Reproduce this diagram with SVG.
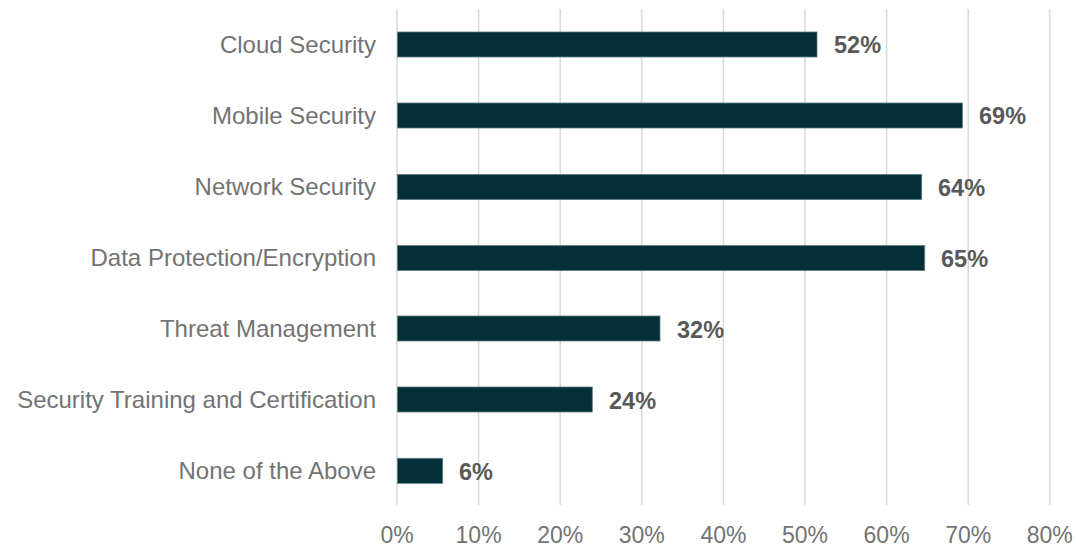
<svg xmlns="http://www.w3.org/2000/svg" width="1076" height="548" viewBox="0 0 1076 548">
<style>
.grid{stroke:#d9d9d9;stroke-width:1.5}
.bar{fill:#022f38;stroke:#5b7d83;stroke-width:0.8}
.cat{font-family:"Liberation Sans",Arial,sans-serif;font-size:24px;fill:#737373;text-anchor:end}
.val{font-family:"Liberation Sans",Arial,sans-serif;font-size:23.5px;font-weight:bold;fill:#595959}
.ax{font-family:"Liberation Sans",Arial,sans-serif;font-size:23px;fill:#737373;text-anchor:middle}
</style>
<rect width="1076" height="548" fill="#ffffff"/>
<g id="gridlines">
<line class="grid" x1="397" y1="9" x2="397" y2="505"/>
<line class="grid" x1="478.6" y1="9" x2="478.6" y2="505"/>
<line class="grid" x1="560.2" y1="9" x2="560.2" y2="505"/>
<line class="grid" x1="641.8" y1="9" x2="641.8" y2="505"/>
<line class="grid" x1="723.4" y1="9" x2="723.4" y2="505"/>
<line class="grid" x1="805" y1="9" x2="805" y2="505"/>
<line class="grid" x1="886.6" y1="9" x2="886.6" y2="505"/>
<line class="grid" x1="968.2" y1="9" x2="968.2" y2="505"/>
<line class="grid" x1="1049.8" y1="9" x2="1049.8" y2="505"/>
</g>
<g id="axis-labels">
<text class="ax" x="397" y="543">0%</text>
<text class="ax" x="478.6" y="543">10%</text>
<text class="ax" x="560.2" y="543">20%</text>
<text class="ax" x="641.8" y="543">30%</text>
<text class="ax" x="723.4" y="543">40%</text>
<text class="ax" x="805" y="543">50%</text>
<text class="ax" x="886.6" y="543">60%</text>
<text class="ax" x="968.2" y="543">70%</text>
<text class="ax" x="1049.8" y="543">80%</text>
</g>
<g id="cloud-security">
<text class="cat" x="376" y="53">Cloud Security</text>
<rect class="bar" x="397.5" y="32" width="419.5" height="25"/>
<text class="val" x="834" y="53">52%</text>
</g>
<g id="mobile-security">
<text class="cat" x="376" y="124">Mobile Security</text>
<rect class="bar" x="397.5" y="103" width="565" height="25"/>
<text class="val" x="979" y="124">69%</text>
</g>
<g id="network-security">
<text class="cat" x="376" y="195">Network Security</text>
<rect class="bar" x="397.5" y="174.5" width="524.2" height="25"/>
<text class="val" x="938" y="195.5">64%</text>
</g>
<g id="data-protection">
<text class="cat" x="376" y="266">Data Protection/Encryption</text>
<rect class="bar" x="397.5" y="245.5" width="527.2" height="25"/>
<text class="val" x="941" y="266.5">65%</text>
</g>
<g id="threat-management">
<text class="cat" x="376" y="337">Threat Management</text>
<rect class="bar" x="397.5" y="316" width="262.5" height="25"/>
<text class="val" x="677" y="337.5">32%</text>
</g>
<g id="security-training">
<text class="cat" x="376" y="408">Security Training and Certification</text>
<rect class="bar" x="397.5" y="387" width="194.8" height="25"/>
<text class="val" x="609" y="408.5">24%</text>
</g>
<g id="none-of-the-above">
<text class="cat" x="376" y="479">None of the Above</text>
<rect class="bar" x="397.5" y="458.3" width="45.2" height="25"/>
<text class="val" x="459" y="479.5">6%</text>
</g>
</svg>
